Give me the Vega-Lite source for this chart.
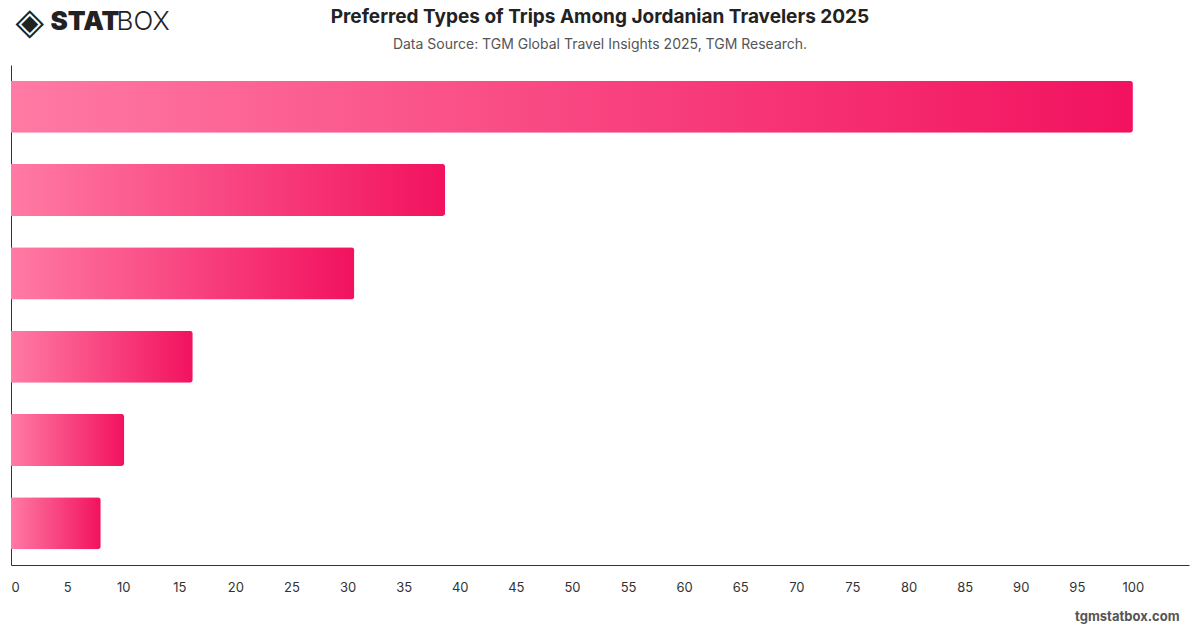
{
  "$schema": "https://vega.github.io/schema/vega-lite/v6.json",
  "autosize": {"type": "none"},
  "width": 1178,
  "height": 500,
  "padding": {"left": 11, "top": 65, "right": 11, "bottom": 63},
  "background": "white",
  "config": {"font": "Inter", "view": {"stroke": null}},
  "title": {
    "text": "Preferred Types of Trips Among Jordanian Travelers 2025",
    "subtitle": "Data Source: TGM Global Travel Insights 2025, TGM Research.",
    "anchor": "middle",
    "font": "Inter",
    "fontSize": 19,
    "fontWeight": "bold",
    "color": "#222222",
    "subtitleFont": "Inter",
    "subtitleFontSize": 14,
    "subtitleColor": "#555555",
    "subtitlePadding": 11,
    "offset": -49
  },
  "data": {
    "values": [
      {"type": "City breaks", "value": 100},
      {"type": "Beach holidays", "value": 38.7},
      {"type": "Nature trips", "value": 30.6},
      {"type": "Cultural trips", "value": 16.2},
      {"type": "Adventure trips", "value": 10.1},
      {"type": "Wellness trips", "value": 8.0}
    ]
  },
  "layer": [
    {
      "mark": {
        "type": "bar",
        "cornerRadiusEnd": 3,
        "fill": {
          "gradient": "linear",
          "x1": 0, "x2": 1, "y1": 0, "y2": 0,
          "stops": [
            {"offset": 0, "color": "#ff7aa4"},
            {"offset": 1, "color": "#f2125f"}
          ]
        }
      },
      "encoding": {
        "y": {
          "field": "type",
          "type": "nominal",
          "sort": null,
          "scale": {"paddingInner": 0.375, "paddingOuter": 0.1875},
          "axis": {
            "orient": "left",
            "labels": false,
            "ticks": false,
            "domain": true,
            "domainColor": "#333333",
            "title": "STAT",
            "titleAngle": 0,
            "titleAlign": "left",
            "titleBaseline": "middle",
            "titleX": 39,
            "titleY": -44,
            "titleFont": "Inter",
            "titleFontSize": 26,
            "titleFontWeight": 900,
            "titleColor": "#222222"
          }
        },
        "x": {
          "field": "value",
          "type": "quantitative",
          "scale": {"domain": [0, 105], "nice": false},
          "axis": {
            "values": [0, 5, 10, 15, 20, 25, 30, 35, 40, 45, 50, 55, 60, 65, 70, 75, 80, 85, 90, 95, 100],
            "grid": false,
            "ticks": false,
            "domainColor": "#333333",
            "labelPadding": 16,
            "labelFontSize": 13,
            "labelColor": "#333333",
            "labelFont": "Inter",
            "title": "tgmstatbox.com",
            "titleAlign": "right",
            "titleAnchor": "end",
            "titleBaseline": "middle",
            "titleX": 1168,
            "titleY": 51,
            "titleFont": "Inter",
            "titleFontSize": 13,
            "titleFontWeight": "bold",
            "titleColor": "#555555"
          }
        }
      }
    },
    {
      "mark": {"type": "bar", "opacity": 0},
      "encoding": {
        "y": {
          "field": "type",
          "type": "nominal",
          "sort": null,
          "axis": {
            "orient": "right",
            "labels": false,
            "ticks": false,
            "domain": false,
            "title": "BOX",
            "titleAngle": 0,
            "titleAlign": "left",
            "titleBaseline": "middle",
            "titleX": -1073,
            "titleY": -44,
            "titleFont": "Inter",
            "titleFontSize": 26,
            "titleFontWeight": 300,
            "titleColor": "#222222"
          }
        },
        "x": {
          "field": "value",
          "type": "quantitative",
          "axis": {
            "orient": "top",
            "labels": false,
            "ticks": false,
            "domain": false,
            "grid": false,
            "title": "◈",
            "titleAlign": "left",
            "titleBaseline": "middle",
            "titleAnchor": "start",
            "titleX": 4,
            "titleY": -43,
            "titleFont": "DejaVu Sans",
            "titleFontSize": 37,
            "titleFontWeight": "normal",
            "titleColor": "#222222"
          }
        }
      }
    }
  ],
  "resolve": {"axis": {"x": "independent", "y": "independent"}}
}
